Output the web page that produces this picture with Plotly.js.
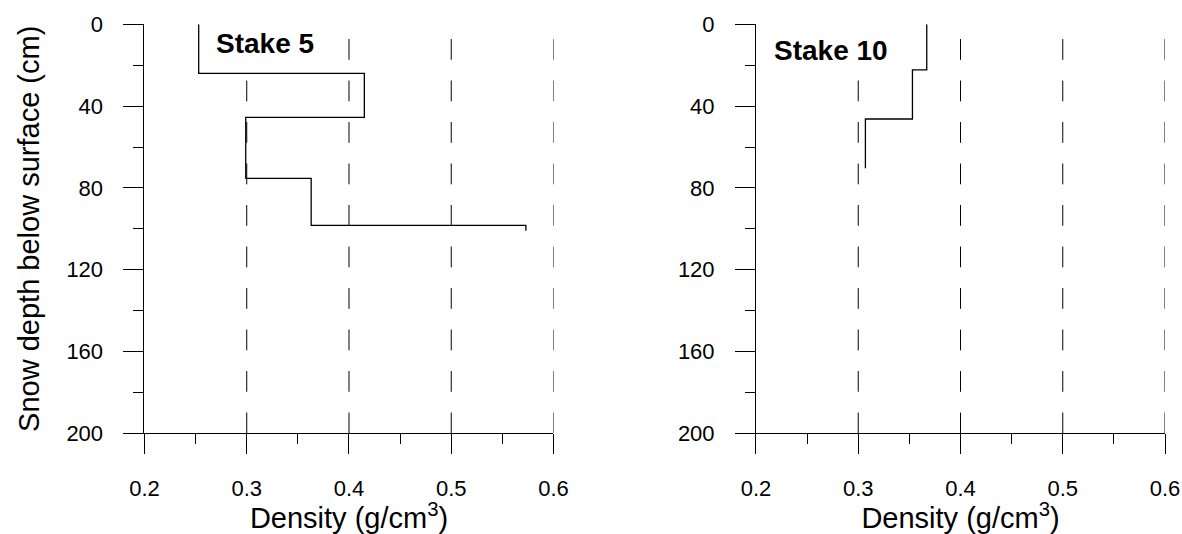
<!DOCTYPE html>
<html>
<head>
<meta charset="utf-8">
<script src="https://cdn.plot.ly/plotly-3.0.1.min.js"></script>
<style>
  html, body { margin: 0; padding: 0; background: #fff; }
  #chart { width: 1182px; height: 534px; }
</style>
</head>
<body>
<div id="chart"></div>
<script>
// Snow pit density profiles: layer boundaries (cm below surface) and layer densities (g/cm3)
const stake5Depth = [0, 24, 45.5, 75.3, 98.3, 101];
const stake5Density = [0.253, 0.415, 0.299, 0.363, 0.573];

const stake10Depth = [0, 22.3, 46.3, 70.4];
const stake10Density = [0.367, 0.353, 0.307];

const panelNames = ['Stake 5', 'Stake 10'];

// Axis ticks
const densityTicks = [0.2, 0.3, 0.4, 0.5, 0.6];
const densityTickText = ['0.2', '0.3', '0.4', '0.5', '0.6'];
const depthTicks = [0, 40, 80, 120, 160, 200];
const depthTickText = ['0', '40', '80', '120', '160', '200'];
const gridDensities = [0.3, 0.4, 0.5, 0.6];

// Turn layers into a stepped profile: each layer is a vertical segment at its density
function stepProfile(depths, densities) {
  const xs = [], ys = [];
  densities.forEach((d, i) => {
    xs.push(d, d);
    ys.push(depths[i], depths[i + 1]);
  });
  return { x: xs, y: ys };
}

const p5 = stepProfile(stake5Depth, stake5Density);
const p10 = stepProfile(stake10Depth, stake10Density);

const FONT = '"Liberation Sans", Arial, Helvetica, sans-serif';
const INK = '#000';

const traces = [
  { x: p5.x, y: p5.y, xaxis: 'x', yaxis: 'y', mode: 'lines',
    line: { color: INK, width: 1.3 }, hoverinfo: 'skip', showlegend: false },
  { x: p10.x, y: p10.y, xaxis: 'x2', yaxis: 'y2', mode: 'lines',
    line: { color: INK, width: 1.3 }, hoverinfo: 'skip', showlegend: false }
];

function xAxis(domain, anchor) {
  return {
    domain: domain, anchor: anchor, range: [0.2, 0.6],
    tickmode: 'array', tickvals: densityTicks, ticktext: densityTickText,
    ticks: 'outside', ticklen: 20, tickwidth: 1, tickcolor: INK,
    ticklabelstandoff: 15,
    minor: { tickmode: 'linear', tick0: 0.2, dtick: 0.05, ticks: 'outside',
             ticklen: 10, tickwidth: 1, tickcolor: INK, showgrid: false },
    showline: true, linecolor: INK, linewidth: 1,
    showgrid: false, zeroline: false, fixedrange: true,
    tickfont: { family: FONT, size: 22, color: INK },
    title: { text: 'Density (g/cm<sup>3</sup>)', font: { family: FONT, size: 29, color: INK }, standoff: 12 }
  };
}

function yAxis(domain, anchor, titleText) {
  return {
    domain: domain, anchor: anchor, range: [200, 0],
    tickmode: 'array', tickvals: depthTicks, ticktext: depthTickText,
    ticks: 'outside', ticklen: 20, tickwidth: 1, tickcolor: INK,
    ticklabelstandoff: 16,
    minor: { tickmode: 'linear', tick0: 0, dtick: 20, ticks: 'outside',
             ticklen: 10, tickwidth: 1, tickcolor: INK, showgrid: false },
    showline: true, linecolor: INK, linewidth: 1,
    showgrid: false, zeroline: false, fixedrange: true,
    tickfont: { family: FONT, size: 22, color: INK },
    title: { text: titleText, font: { family: FONT, size: 29, color: INK }, standoff: 18 }
  };
}

// Dashed reference lines at each density tick, drawn from the bottom up
const shapes = [];
[['x', 'y'], ['x2', 'y2']].forEach(([xr, yr]) => {
  gridDensities.forEach(g => {
    shapes.push({
      type: 'line', xref: xr, yref: yr, x0: g, x1: g, y0: 200, y1: 0,
      line: { color: INK, width: 1, dash: '20.75px,20.75px' }, layer: 'below'
    });
  });
});

const annotations = [
  { xref: 'x', yref: 'y', x: 0.318, y: 9.6, text: '<b>' + panelNames[0] + '</b>',
    showarrow: false, bgcolor: '#fff', borderpad: 2,
    font: { family: FONT, size: 28, color: INK } },
  { xref: 'x2', yref: 'y2', x: 0.2733, y: 12.6, text: '<b>' + panelNames[1] + '</b>',
    showarrow: false, bgcolor: '#fff', borderpad: 2,
    font: { family: FONT, size: 28, color: INK } }
];

const yDomain = [0.18858, 0.95449];

const layout = {
  width: 1182, height: 534,
  margin: { l: 0, r: 0, t: 0, b: 0 },
  paper_bgcolor: '#fff', plot_bgcolor: '#fff',
  showlegend: false,
  font: { family: FONT, color: INK },
  xaxis: xAxis([0.12225, 0.46827], 'y'),
  yaxis: yAxis(yDomain, 'x', 'Snow depth below surface (cm)'),
  xaxis2: xAxis([0.63959, 0.98562], 'y2'),
  yaxis2: yAxis(yDomain, 'x2', ''),
  shapes: shapes,
  annotations: annotations
};

Plotly.newPlot('chart', traces, layout, { displayModeBar: false, staticPlot: true });
</script>
</body>
</html>
